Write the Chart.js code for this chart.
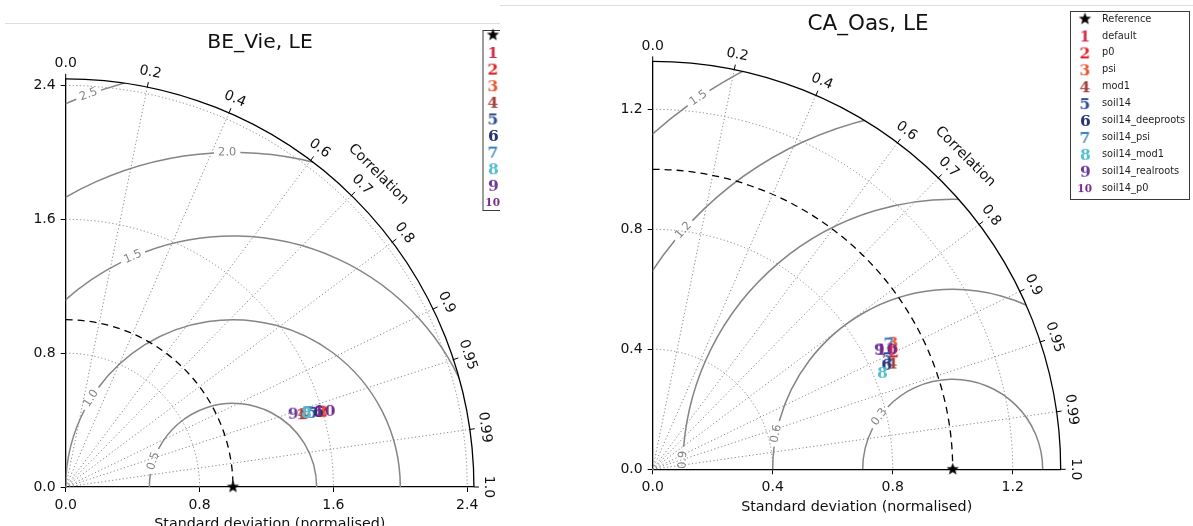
<!DOCTYPE html>
<html>
<head>
<meta charset="utf-8">
<script src="https://cdn.jsdelivr.net/npm/chart.js@4.4.1/dist/chart.umd.min.js"></script>
<style>
  html, body { margin: 0; padding: 0; background: #fff; width: 1193px; height: 526px; overflow: hidden; }
  #left  { position: absolute; left: 0; top: 0; width: 500px; height: 526px; overflow: hidden; }
  #right { position: absolute; left: 500px; top: 0; width: 693px; height: 526px; background: #fff; }
  .rule  { position: absolute; height: 1px; background: #dedede; }
</style>
</head>
<body>
<div id="left"><canvas id="beVie" width="500" height="526"></canvas></div>
<div id="right"><canvas id="caOas" width="693" height="526"></canvas></div>
<div class="rule" style="left:5px;top:23px;width:495px"></div>
<div class="rule" style="left:500px;top:5px;width:693px"></div>
<script>
// Model configurations compared on both Taylor diagrams
const modelNames = ['default', 'p0', 'psi', 'mod1', 'soil14', 'soil14_deeproots',
                    'soil14_psi', 'soil14_mod1', 'soil14_realroots', 'soil14_p0'];
const modelMarkers = ['1', '2', '3', '4', '5', '6', '7', '8', '9', '10'];

// BE_Vie, LE: normalised standard deviation and correlation with observations
const beVieStd  = [1.477, 1.601, 1.592, 1.485, 1.539, 1.574, 1.516, 1.504, 1.427, 1.617];
const beVieCorr = [0.955, 0.959, 0.959, 0.955, 0.957, 0.958, 0.955, 0.955, 0.951, 0.959];

// CA_Oas, LE
const caOasStd  = [0.891, 0.894, 0.906, 0.873, 0.865, 0.854, 0.893, 0.830, 0.854, 0.878];
const caOasCorr = [0.891, 0.899, 0.884, 0.914, 0.903, 0.912, 0.882, 0.921, 0.883, 0.890];

// Observations (reference point)
const refStd = 1.0;
const refCorr = 1.0;

// Axis ticks and contour levels
const beVieStdTicks = [0.0, 0.8, 1.6, 2.4];
const caOasStdTicks = [0.0, 0.4, 0.8, 1.2];
const corrTicks      = [0.0, 0.2, 0.4, 0.6, 0.7, 0.8, 0.9, 0.95, 0.99, 1.0];
const corrTickLabels = ['0.0', '0.2', '0.4', '0.6', '0.7', '0.8', '0.9', '0.95', '0.99', '1.0'];
const beVieRmsLevels = [0.5, 1.0, 1.5, 2.0, 2.5];
const caOasRmsLevels = [0.3, 0.6, 0.9, 1.2, 1.5];

// ---- styling ----
const markerColors = ['#d42c4c', '#e0232a', '#e6532a', '#a0403b', '#2b4b98',
                      '#243676', '#3a80c2', '#54bfcc', '#6a3b98', '#76298a'];
const SANS = '"DejaVu Sans", sans-serif';
const SERIF = '"DejaVu Serif", serif';
const DEG = Math.PI / 180;

function textMarker(text, color, size) {
  const font = 'bold ' + size + 'px ' + SERIF;
  const probe = document.createElement('canvas').getContext('2d');
  probe.font = font;
  const m = probe.measureText(text);
  const l = m.actualBoundingBoxLeft, r = m.actualBoundingBoxRight;
  const a = m.actualBoundingBoxAscent, d = m.actualBoundingBoxDescent;
  const w = Math.ceil(l + r) + 4, h = Math.ceil(a + d) + 4;
  const c = document.createElement('canvas');
  c.width = w; c.height = h;
  const g = c.getContext('2d');
  g.font = font; g.fillStyle = color; g.textAlign = 'left'; g.textBaseline = 'alphabetic';
  g.fillText(text, (w - (l + r)) / 2 + l, (h - (a + d)) / 2 + a);
  return c;
}

function starMarker(r, color) {
  const size = Math.ceil(r * 2) + 2;
  const c = document.createElement('canvas');
  c.width = size; c.height = size;
  const g = c.getContext('2d');
  g.fillStyle = color;
  g.beginPath();
  for (let i = 0; i < 10; i++) {
    const ang = -Math.PI / 2 + i * Math.PI / 5;
    const rr = i % 2 ? r * 0.42 : r;
    g.lineTo(size / 2 + rr * Math.cos(ang), size / 2 + rr * Math.sin(ang));
  }
  g.closePath();
  g.fill();
  return c;
}

const plotMarkers = modelMarkers.map((t, i) => textMarker(t, markerColors[i], 15.5));
const legendMarkers = modelMarkers.map((t, i) => textMarker(t, markerColors[i], t.length > 1 ? 10.5 : 15.5));
const refMarker = starMarker(6.5, '#000');

// Taylor-diagram furniture: std arcs, correlation rays, RMS contours, labels, legend
const taylorPlugin = {
  id: 'taylor',
  beforeDatasetsDraw(chart, args, o) {
    const ctx = chart.ctx, xs = chart.scales.x, ys = chart.scales.y;
    const ox = xs.getPixelForValue(0), oy = ys.getPixelForValue(0);
    const k = xs.getPixelForValue(1) - ox;
    const R = o.smax * k;
    ctx.save();

    // dotted grid: std arcs and correlation rays
    ctx.strokeStyle = '#7c7c7c';
    ctx.lineWidth = 0.9;
    ctx.setLineDash([1.2, 2.4]);
    o.stdTicks.forEach(s => {
      if (s <= 0) return;
      ctx.beginPath(); ctx.arc(ox, oy, s * k, -Math.PI / 2, 0); ctx.stroke();
    });
    corrTicks.forEach(r => {
      if (r <= 0 || r >= 1) return;
      const t = Math.acos(r);
      ctx.beginPath(); ctx.moveTo(ox, oy);
      ctx.lineTo(ox + R * Math.cos(t), oy - R * Math.sin(t)); ctx.stroke();
    });

    // centred RMS difference contours, clipped to the quarter disc
    ctx.setLineDash([]);
    ctx.save();
    ctx.beginPath(); ctx.moveTo(ox, oy); ctx.arc(ox, oy, R, -Math.PI / 2, 0); ctx.closePath(); ctx.clip();
    const cx = xs.getPixelForValue(refStd);
    ctx.strokeStyle = '#858585';
    ctx.fillStyle = '#858585';
    ctx.lineWidth = 1.5;
    ctx.font = '11.5px ' + SANS;
    ctx.textAlign = 'center';
    ctx.textBaseline = 'middle';
    o.rmsLevels.forEach((lev, i) => {
      const rr = lev * k;
      const phi = o.rmsLabelAngles[i] * DEG;
      const label = lev.toFixed(1);
      const gap = (ctx.measureText(label).width / 2 + 4) / rr;
      if (phi + gap < Math.PI) { ctx.beginPath(); ctx.arc(cx, oy, rr, -Math.PI, -(phi + gap)); ctx.stroke(); }
      if (phi - gap > 0) { ctx.beginPath(); ctx.arc(cx, oy, rr, -(phi - gap), 0); ctx.stroke(); }
      ctx.save();
      ctx.translate(cx + rr * Math.cos(phi), oy - rr * Math.sin(phi));
      ctx.rotate(Math.PI / 2 - phi);
      ctx.fillText(label, 0, 0);
      ctx.restore();
    });
    ctx.restore();

    // reference std (dashed) and outer boundary
    ctx.strokeStyle = '#000';
    ctx.lineWidth = 1.3;
    ctx.setLineDash([7, 5]);
    ctx.beginPath(); ctx.arc(ox, oy, refStd * k, -Math.PI / 2, 0); ctx.stroke();
    ctx.setLineDash([]);
    ctx.lineWidth = 1.3;
    ctx.beginPath(); ctx.arc(ox, oy, R, -Math.PI / 2, 0); ctx.stroke();
    ctx.restore();
  },
  afterDraw(chart, args, o) {
    const ctx = chart.ctx, xs = chart.scales.x, ys = chart.scales.y;
    const ox = xs.getPixelForValue(0), oy = ys.getPixelForValue(0);
    const k = xs.getPixelForValue(1) - ox;
    const R = o.smax * k;
    ctx.save();

    // correlation ticks and labels along the outer arc
    ctx.strokeStyle = '#000';
    ctx.lineWidth = 1;
    ctx.fillStyle = '#111';
    ctx.font = '14px ' + SANS;
    ctx.textAlign = 'center';
    ctx.textBaseline = 'middle';
    corrTicks.forEach((r, i) => {
      const t = Math.acos(r);
      const c = Math.cos(t), s = Math.sin(t);
      ctx.beginPath();
      ctx.moveTo(ox + R * c, oy - R * s);
      ctx.lineTo(ox + (R + 5) * c, oy - (R + 5) * s);
      ctx.stroke();
      ctx.save();
      ctx.translate(ox + (R + 15) * c, oy - (R + 15) * s);
      ctx.rotate(Math.PI / 2 - t);
      ctx.fillText(corrTickLabels[i], 0, 0);
      ctx.restore();
    });
    ctx.font = '14.3px ' + SANS;
    ctx.save();
    ctx.translate(ox + (R + 34) * Math.cos(45 * DEG), oy - (R + 34) * Math.sin(45 * DEG));
    ctx.rotate(45 * DEG);
    ctx.fillText('Correlation', 0, 0);
    ctx.restore();

    // axis title and panel title
    ctx.fillText('Standard deviation (normalised)', (ox + ox + R) / 2, oy + o.xTitleOffset);
    ctx.font = o.titleSize + 'px ' + SANS;
    ctx.fillText(o.title, o.titleX, oy - o.titleOffset);

    // legend
    const L = o.legend;
    ctx.fillStyle = '#fff';
    ctx.fillRect(L.x, L.y, L.w, L.h);
    ctx.strokeStyle = '#3a3a3a';
    ctx.lineWidth = 1;
    ctx.strokeRect(L.x + 0.5, L.y + 0.5, L.w, L.h);
    ctx.textAlign = 'left';
    ctx.font = '9.8px ' + SANS;
    ctx.fillStyle = '#1e1e1e';
    const mx = L.x + L.markerDx, tx = L.x + L.textDx;
    ctx.drawImage(refMarker, mx - refMarker.width / 2, L.refY - refMarker.height / 2);
    ctx.fillText('Reference', tx, L.refY);
    modelNames.forEach((name, i) => {
      const y = L.firstY + i * L.step;
      const m = legendMarkers[i];
      ctx.drawImage(m, mx - m.width / 2, y - m.height / 2);
      ctx.fillText(name, tx, y);
    });
    ctx.restore();
  }
};

function buildTaylor(p) {
  const yW = 50, xH = 30;
  const W = p.width, H = 526;
  const span = p.smax * p.k;
  const tickFont = { family: SANS, size: 14 };
  const datasets = [{
    label: 'Reference',
    data: [{ x: refStd * refCorr, y: refStd * Math.sqrt(1 - refCorr * refCorr) }],
    pointStyle: refMarker, pointRadius: 5, clip: false, order: 50
  }];
  modelNames.forEach((name, i) => {
    datasets.push({
      label: name,
      data: [{ x: p.std[i] * p.corr[i], y: p.std[i] * Math.sqrt(1 - p.corr[i] * p.corr[i]) }],
      pointStyle: plotMarkers[i], pointRadius: 5, clip: false,
      order: modelNames.length - i
    });
  });
  const axis = (afterFit) => ({
    type: 'linear', min: 0, max: p.smax,
    afterFit,
    afterBuildTicks: s => { s.ticks = p.stdTicks.map(v => ({ value: v })); },
    ticks: { callback: v => Number(v).toFixed(1), font: tickFont, color: '#111',
             padding: 5, autoSkip: false, maxRotation: 0 },
    grid: { drawOnChartArea: false, tickLength: 5, tickColor: '#000', tickWidth: 1 },
    border: { color: '#000', width: 1.3 }
  });
  return new Chart(document.getElementById(p.canvas), {
    type: 'scatter',
    data: { datasets },
    options: {
      responsive: false, animation: false, events: [],
      layout: { padding: { left: p.ox - yW, top: p.oy - span, right: W - p.ox - span, bottom: H - p.oy - xH } },
      scales: {
        x: axis(s => { s.height = xH; }),
        y: axis(s => { s.width = yW; })
      },
      plugins: {
        legend: { display: false },
        tooltip: { enabled: false },
        taylor: p.taylor
      }
    },
    plugins: [taylorPlugin]
  });
}

buildTaylor({
  canvas: 'beVie', width: 500, ox: 65.7, oy: 487, k: 167.3, smax: 2.44,
  std: beVieStd, corr: beVieCorr, stdTicks: beVieStdTicks,
  taylor: {
    smax: 2.44, stdTicks: beVieStdTicks, rmsLevels: beVieRmsLevels,
    rmsLabelAngles: [162, 148, 113.5, 91, 110.2],
    title: 'BE_Vie, LE', titleSize: 20.3, titleX: 260, titleOffset: 444, xTitleOffset: 37.5,
    legend: { x: 482.5, y: 30, w: 140, h: 180, markerDx: 10.5, textDx: 32,
              refY: 35, firstY: 52.5, step: 16.6 }
  }
});

buildTaylor({
  canvas: 'caOas', width: 693, ox: 152.7, oy: 469.3, k: 300, smax: 1.36,
  std: caOasStd, corr: caOasCorr, stdTicks: caOasStdTicks,
  taylor: {
    smax: 1.36, stdTicks: caOasStdTicks, rmsLevels: caOasRmsLevels,
    rmsLabelAngles: [144.5, 168.6, 178, 138.4, 124.4],
    title: 'CA_Oas, LE', titleSize: 21.5, titleX: 368, titleOffset: 445, xTitleOffset: 37.5,
    legend: { x: 570, y: 11, w: 119, h: 188, markerDx: 15, textDx: 32,
              refY: 19, firstY: 36, step: 16.9 }
  }
});
</script>
</body>
</html>
